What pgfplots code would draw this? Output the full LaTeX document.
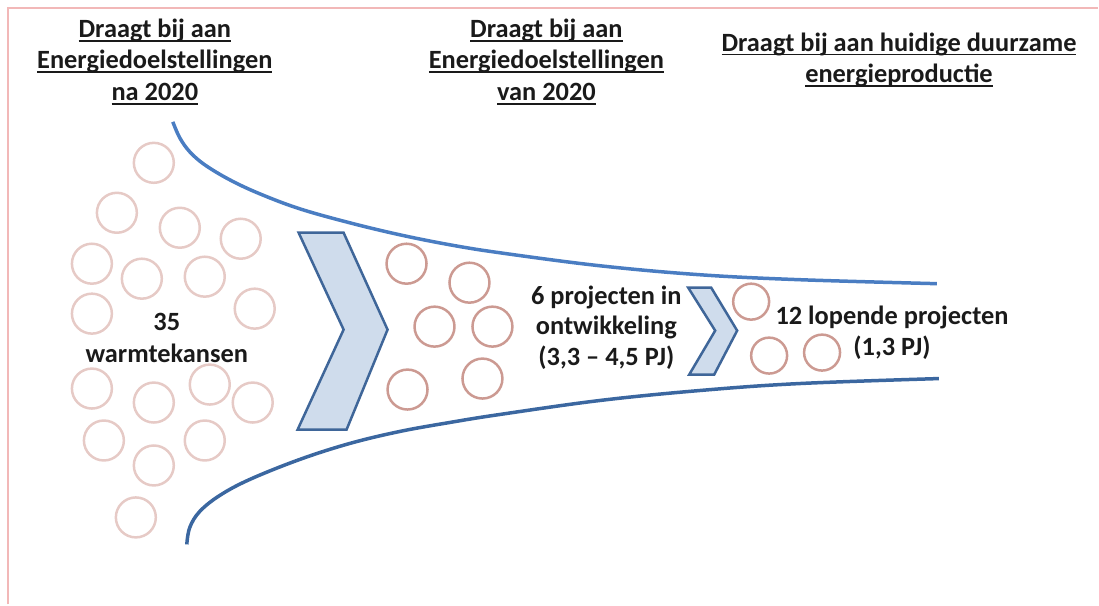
\documentclass[border=0pt]{standalone}
\usepackage{pgfplots}
\pgfplotsset{compat=1.18}
\usepackage{fontspec}
\setmainfont{Carlito}
\definecolor{border}{HTML}{F2B8B8}
\definecolor{cLight}{HTML}{E6CAC6}
\definecolor{cDark}{HTML}{CC9A92}
\definecolor{topBlue}{HTML}{4A7DC2}
\definecolor{botBlue}{HTML}{3B67A0}
\definecolor{chevFill}{HTML}{CFDCEC}
\definecolor{chevLine}{HTML}{3F6699}
\definecolor{txt}{HTML}{1A1A1A}
\newcommand\ul[1]{\setbox0\hbox{#1}\rlap{\rule[-4.5pt]{\wd0}{2pt}}\box0}
\begin{document}
\begin{tikzpicture}
\begin{axis}[hide axis, scale only axis, width=1099bp, height=605bp,
  xmin=0, xmax=1099, ymin=0, ymax=605, y dir=reverse, clip=false]
\addplot[draw=none] coordinates {(0,0) (1099,605)};
% border
\addplot[border, line width=2.5bp] coordinates {(8,605) (8,8) (1099,8)};
% funnel curves
\addplot[topBlue, line width=3.5bp, smooth, tension=0.6] coordinates {
(173,122) (180,138) (190,152) (205,165) (230,180) (260,194) (300,209) (350,223) (400,235) (450,245) (500,253) (600,266) (700,275) (800,280) (938,284)};
\addplot[botBlue, line width=3.5bp, smooth, tension=0.6] coordinates {
(187,545) (190,528) (200,512) (220,496) (250,480) (300,460) (350,444) (400,432) (450,423) (500,415) (600,401) (700,391) (800,384) (940,379)};
% chevrons
\addplot[fill=chevFill, draw=chevLine, line width=2.5bp, line join=miter] coordinates {
(299,233) (344,233) (388,330) (347,430) (298,430) (344,330) (299,233)} -- cycle;
\addplot[fill=chevFill, draw=chevLine, line width=2.5bp, line join=miter] coordinates {
(689,288) (712,288) (738,331) (715,375) (690,375) (716,331) (689,288)} -- cycle;
% circles
\addplot[only marks, mark=o, mark size=20bp, mark options={draw=cLight, line width=2.5bp}] coordinates {
(154,163) (117,213) (180,228) (241,239) (92,264) (142,279) (205,277) (255,309) (92,314)
(92,389) (154,403) (210,385) (253,403) (104,441) (205,441) (154,466) (136,518)};
\addplot[only marks, mark=o, mark size=20bp, mark options={draw=cDark, line width=2.5bp}] coordinates {
(407,264) (470,283) (435,327) (493,327) (408,390) (483,379)};
\addplot[only marks, mark=o, mark size=18bp, mark options={draw=cDark, line width=2.5bp}] coordinates {
(752,302) (770,356) (823,353)};
% headings
\node[txt, font=\fontsize{26.5}{32}\selectfont\bfseries, align=center] at (axis cs:155,62)
  {\ul{Draagt bij aan}\\\ul{Energiedoelstellingen}\\\ul{na 2020}};
\node[txt, font=\fontsize{26.5}{32}\selectfont\bfseries, align=center] at (axis cs:547,62)
  {\ul{Draagt bij aan}\\\ul{Energiedoelstellingen}\\\ul{van 2020}};
\node[txt, font=\fontsize{26.5}{32}\selectfont\bfseries, align=center] at (axis cs:900,60)
  {\ul{Draagt bij aan huidige duurzame}\\\ul{energieproductie}};
% labels
\node[txt, font=\fontsize{26.5}{32}\selectfont\bfseries, align=center] at (axis cs:167,338)
  {35\\warmtekansen};
\node[txt, font=\fontsize{26.5}{31}\selectfont\bfseries, align=center] at (axis cs:607,328)
  {6 projecten in\\ontwikkeling\\(3,3 – 4,5 PJ)};
\node[txt, font=\fontsize{26.5}{31}\selectfont\bfseries, align=center] at (axis cs:893,333)
  {12 lopende projecten\\(1,3 PJ)};
\end{axis}
\end{tikzpicture}
\end{document}
